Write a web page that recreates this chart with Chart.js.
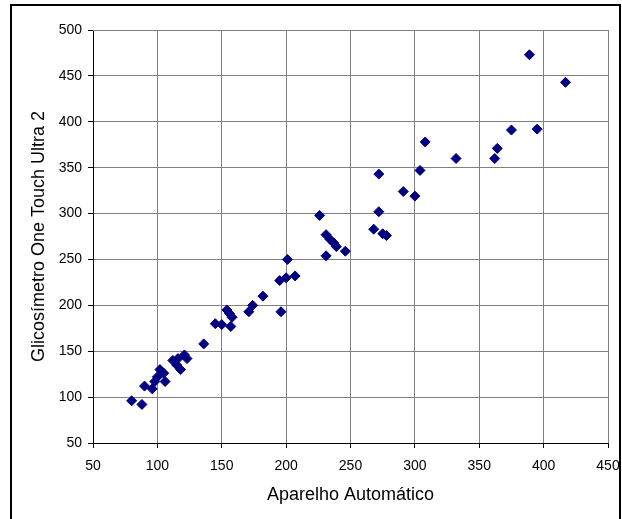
<!DOCTYPE html>
<html>
<head>
<meta charset="utf-8">
<script src="https://cdn.jsdelivr.net/npm/chart.js@4/dist/chart.umd.min.js"></script>
<style>
  html, body { margin: 0; padding: 0; background: #fff; }
  #wrap { position: relative; width: 622px; height: 519px; overflow: hidden; }
  #frame { position: absolute; left: 10px; top: 4px; width: 611px; height: 560px; border: 2px solid #000; box-sizing: border-box; pointer-events: none; }
  canvas { position: absolute; left: 0; top: 0; }
</style>
</head>
<body>
<div id="wrap">
  <canvas id="c" width="622" height="519"></canvas>
  <div id="frame"></div>
</div>
<script>
// Aparelho Automático (x) values
const xValues = [80, 88, 90, 96, 98, 100, 102, 105, 106, 112, 115, 116, 118, 121, 123,
  136, 145, 150, 154, 156, 158, 157, 171, 174, 182, 195, 200, 207, 196, 201,
  226, 231, 234, 237, 239, 246, 231, 268, 272, 275, 278, 272, 291, 300, 304,
  308, 332, 362, 364, 375, 395, 389, 417];
// Glicosímetro One Touch Ultra 2 (y) values
const yValues = [96, 92, 112, 109, 117, 122, 130, 126, 117, 140, 135, 142, 130, 146, 142,
  158, 180, 179, 195, 191, 187, 177, 193, 200, 210, 227, 230, 232, 193, 250,
  298, 277, 272, 268, 264, 259, 254, 283, 302, 278, 276, 343, 324, 319, 347,
  378, 360, 360, 371, 391, 392, 473, 443];
const xTicks = [50, 100, 150, 200, 250, 300, 350, 400, 450];
const yTicks = [50, 100, 150, 200, 250, 300, 350, 400, 450, 500];
const xTitle = 'Aparelho Automático';
const yTitle = 'Glicosímetro One Touch Ultra 2';

const points = xValues.map((x, i) => ({ x: x, y: yValues[i] }));
const family = '"Liberation Sans", Arial, sans-serif';
const tickFont = { family: family, size: 14 };
const titleFont = { family: family, size: 18 };

new Chart(document.getElementById('c'), {
  type: 'scatter',
  data: {
    datasets: [{
      data: points,
      pointStyle: 'rectRot',
      pointRadius: 5,
      pointBorderWidth: 1,
      backgroundColor: '#000080',
      borderColor: '#000080'
    }]
  },
  options: {
    responsive: false,
    animation: false,
    devicePixelRatio: 1,
    layout: { padding: { left: 0, top: 30, right: 14, bottom: 0 } },
    plugins: { legend: { display: false }, tooltip: { enabled: false } },
    scales: {
      x: {
        type: 'linear',
        min: 50, max: 450,
        afterBuildTicks: s => { s.ticks = xTicks.map(v => ({ value: v })); },
        afterFit: s => { s.height = 76; s.paddingLeft = 0; s.paddingRight = 0; },
        ticks: { color: '#000', font: tickFont, padding: 10, maxRotation: 0 },
        grid: { color: '#808080', borderDash: [1, 1], tickColor: '#000', tickLength: 5, tickBorderDash: [] },
        border: { color: '#000', width: 1, dash: [] },
        title: { display: true, text: xTitle, color: '#000', font: titleFont, padding: { top: 0, bottom: 13 } }
      },
      y: {
        type: 'linear',
        min: 50, max: 500,
        afterBuildTicks: s => { s.ticks = yTicks.map(v => ({ value: v })); },
        afterFit: s => { s.width = 93; s.paddingTop = 0; s.paddingBottom = 0; },
        ticks: { color: '#000', font: tickFont, padding: 6 },
        grid: { color: '#808080', borderDash: [1, 1], tickColor: '#000', tickLength: 5, tickBorderDash: [] },
        border: { color: '#000', width: 1, dash: [] },
        title: { display: true, text: yTitle, color: '#000', font: titleFont, padding: { top: 28, bottom: 0 } }
      }
    }
  },
  plugins: [{
    id: 'plotBorder',
    beforeDatasetsDraw(chart) {
      const { ctx, chartArea: a } = chart;
      ctx.save();
      ctx.strokeStyle = '#808080';
      ctx.lineWidth = 1;
      ctx.beginPath();
      ctx.moveTo(a.left, a.top + 0.5);
      ctx.lineTo(a.right + 0.5, a.top + 0.5);
      ctx.lineTo(a.right + 0.5, a.bottom);
      ctx.stroke();
      ctx.restore();
    }
  }]
});
</script>
</body>
</html>
